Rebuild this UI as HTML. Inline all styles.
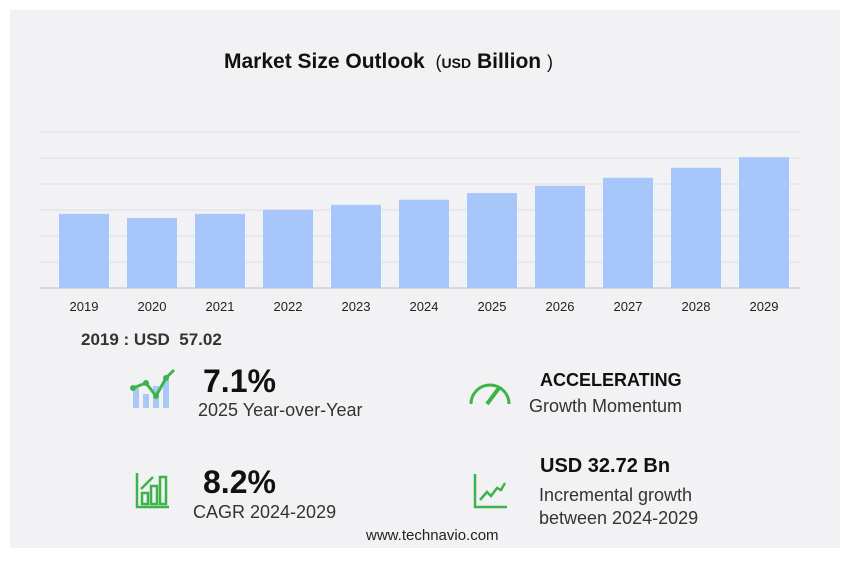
<!DOCTYPE html>
<html><head><meta charset="utf-8"><style>
body{margin:0;width:856px;height:561px;background:#fff;font-family:"Liberation Sans",sans-serif;position:relative;overflow:hidden}
#panel{position:absolute;left:10px;top:10px;width:830px;height:538px;background:#f2f2f4}
.t{position:absolute;white-space:nowrap;color:#111}
</style></head><body>
<div id="panel"></div>
<div class="t" style="left:224px;top:50px;font-size:21px;font-weight:bold">Market Size Outlook <span style="font-weight:normal;font-size:18px">&nbsp;(</span><span style="font-size:14px">USD</span> Billion <span style="font-weight:normal;font-size:18px">)</span></div>
<svg id="chart" width="856" height="330" style="position:absolute;left:0;top:0"></svg>
<div class="t" style="left:81px;top:330px;font-size:17px;font-weight:bold;color:#333">2019 : USD&nbsp; 57.02</div>

<svg width="56" height="46" style="position:absolute;left:130px;top:366px">
<rect x="3" y="22" width="6" height="20" fill="#a9c8f5"/><rect x="13" y="28" width="6" height="14" fill="#a9c8f5"/><rect x="23" y="20" width="6" height="22" fill="#a9c8f5"/><rect x="33" y="14" width="6" height="28" fill="#a9c8f5"/>
<polyline points="3,22 16,17 26,30 36,12 44,4" fill="none" stroke="#3cb44b" stroke-width="3"/>
<circle cx="3" cy="22" r="3" fill="#3cb44b"/><circle cx="16" cy="17" r="3" fill="#3cb44b"/><circle cx="26" cy="30" r="3" fill="#3cb44b"/><circle cx="36" cy="12" r="3" fill="#3cb44b"/></svg>
<div class="t" style="left:203px;top:363px;font-size:32px;font-weight:bold">7.1%</div>
<div class="t" style="left:198px;top:400px;font-size:18px;color:#333">2025 Year-over-Year</div>

<svg width="46" height="36" style="position:absolute;left:467px;top:374px">
<path d="M4,30 A19,19 0 0 1 42,30" fill="none" stroke="#3cb44b" stroke-width="3"/>
<line x1="20" y1="30" x2="32" y2="14" stroke="#3cb44b" stroke-width="4"/></svg>
<div class="t" style="left:540px;top:370px;font-size:18px;font-weight:bold">ACCELERATING</div>
<div class="t" style="left:529px;top:396px;font-size:18px;color:#333">Growth Momentum</div>

<svg width="36" height="36" style="position:absolute;left:135px;top:473px">
<g fill="none" stroke="#3cb44b" stroke-width="2.5"><polyline points="2,0 2,34 34,34"/><rect x="7" y="20" width="6" height="11"/><rect x="16" y="13" width="6" height="18"/><rect x="25" y="4" width="6" height="27"/><line x1="6" y1="16" x2="18" y2="4"/></g></svg>
<div class="t" style="left:203px;top:464px;font-size:32px;font-weight:bold">8.2%</div>
<div class="t" style="left:193px;top:502px;font-size:18px;color:#333">CAGR 2024-2029</div>

<svg width="36" height="36" style="position:absolute;left:473px;top:474px">
<g fill="none" stroke="#3cb44b" stroke-width="2.5"><polyline points="2,0 2,33 34,33"/><polyline points="7,26 14,18 18,22 24,14 28,16 32,9"/></g></svg>
<div class="t" style="left:540px;top:455px;font-size:20px;font-weight:bold">USD 32.72 Bn</div>
<div class="t" style="left:539px;top:484px;font-size:18px;color:#333;line-height:23px">Incremental growth<br>between 2024-2029</div>
<div class="t" style="left:366px;top:527px;font-size:15px;color:#222">www.technavio.com</div>

<script>
const categories=["2019","2020","2021","2022","2023","2024","2025","2026","2027","2028","2029"];
const values=[57.02,53.9,57.0,60.1,64.0,67.9,73.0,78.6,84.8,92.5,100.6];
const gridTicks=[0,20,40,60,80,100,120];
const svg=document.getElementById('chart');
const NS="http://www.w3.org/2000/svg";
const y0=288,yMax=120,plotH=156,x0=50,band=68,barW=50;
function y(v){return y0-v/yMax*plotH;}
function x(i){return x0+i*band+band/2;}
gridTicks.forEach(t=>{
 const l=document.createElementNS(NS,'line');
 
 
 l.setAttribute('x1',40);l.setAttribute('x2',800);l.setAttribute('y1',y(t));l.setAttribute('y2',y(t));
 l.setAttribute('stroke',t===0?'#bdbdbd':'#dedee2');l.setAttribute('stroke-width',1);
 svg.appendChild(l);
});
values.forEach((v,i)=>{
 const r=document.createElementNS(NS,'rect');
 
 
 r.setAttribute('x',x(i)-barW/2);r.setAttribute('y',y(v));r.setAttribute('width',barW);r.setAttribute('height',y0-y(v));
 r.setAttribute('fill','#a7c7fa');
 svg.appendChild(r);
 const t=document.createElementNS(NS,'text');
 
 
 t.setAttribute('x',x(i));t.setAttribute('y',311);t.setAttribute('text-anchor','middle');
 t.setAttribute('font-size','13');t.setAttribute('fill','#222');t.setAttribute('font-family','Liberation Sans, sans-serif');
 t.textContent=categories[i];
 svg.appendChild(t);
});
</script>
</body></html>
